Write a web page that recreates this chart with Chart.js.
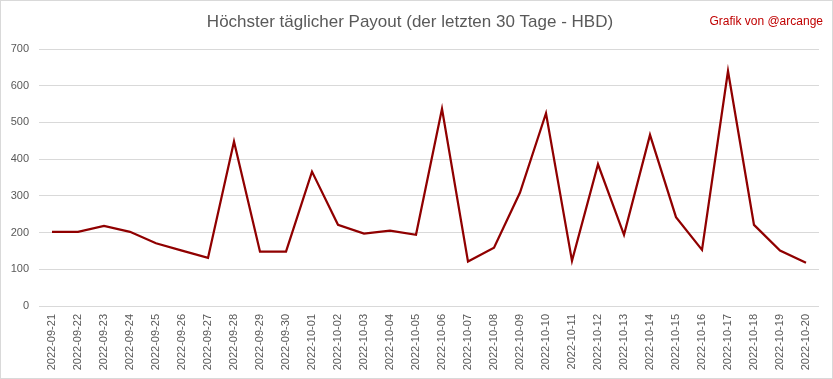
<!DOCTYPE html>
<html>
<head>
<meta charset="utf-8">
<script src="https://cdn.jsdelivr.net/npm/chart.js@4/dist/chart.umd.min.js"></script>
<style>
    html, body { margin: 0; padding: 0; background: #fff; }
    #wrap {
        position: relative;
        width: 833px;
        height: 379px;
        box-sizing: border-box;
        border: 1px solid #d9d9d9;
    }
    #credit {
        position: absolute;
        right: 9px;
        top: 13px;
        font: 12px "Liberation Sans", sans-serif;
        color: #c00000;
    }
</style>
</head>
<body>
<div id="wrap">
    <canvas id="payoutChart" width="831" height="377"></canvas>
    <div id="credit">Grafik von @arcange</div>
</div>
<script>
const days = [
    '2022-09-21', '2022-09-22', '2022-09-23', '2022-09-24', '2022-09-25',
    '2022-09-26', '2022-09-27', '2022-09-28', '2022-09-29', '2022-09-30',
    '2022-10-01', '2022-10-02', '2022-10-03', '2022-10-04', '2022-10-05',
    '2022-10-06', '2022-10-07', '2022-10-08', '2022-10-09', '2022-10-10',
    '2022-10-11', '2022-10-12', '2022-10-13', '2022-10-14', '2022-10-15',
    '2022-10-16', '2022-10-17', '2022-10-18', '2022-10-19', '2022-10-20'
];

// highest daily payout in HBD
const payout = [
    202, 202, 218, 202, 171, 151, 131, 448, 148, 148,
    366, 221, 197, 205, 194, 537, 121, 159, 309, 525,
    123, 386, 194, 466, 242, 153, 640, 221, 151, 118
];

const yTicks = [0, 100, 200, 300, 400, 500, 600, 700];

const grey = '#595959';

document.addEventListener("DOMContentLoaded", function () {
    const ctx = document.getElementById('payoutChart').getContext('2d');

    new Chart(ctx, {
        type: 'line',
        data: {
            labels: days,
            datasets: [{
                label: 'Payout',
                data: payout,
                borderColor: '#900000',
                borderWidth: 2.25,
                pointRadius: 0,
                tension: 0,
                fill: false
            }]
        },
        options: {
            responsive: false,
            animation: false,
            plugins: {
                legend: { display: false },
                tooltip: { enabled: false },
                title: {
                    display: true,
                    text: 'Höchster täglicher Payout (der letzten 30 Tage - HBD)',
                    color: grey,
                    font: { family: '"Liberation Sans", sans-serif', size: 17, weight: 'normal' },
                    padding: { top: 11, bottom: 16.6 }
                }
            },
            layout: {
                padding: { left: 0, right: 13, top: 0, bottom: 0 }
            },
            scales: {
                x: {
                    offset: true,
                    grid: { display: false },
                    border: { display: false },
                    ticks: {
                        color: grey,
                        font: { family: '"Liberation Sans", sans-serif', size: 11 },
                        minRotation: 90,
                        maxRotation: 90,
                        autoSkip: false,
                        padding: 0
                    },
                    afterFit: function (scale) { scale.height = 72; }
                },
                y: {
                    min: 0,
                    max: 700,
                    afterBuildTicks: function (scale) {
                        scale.ticks = yTicks.map(v => ({ value: v }));
                    },
                    grid: { color: '#d9d9d9', lineWidth: 1, drawTicks: false },
                    border: { display: false },
                    ticks: {
                        color: grey,
                        font: { family: '"Liberation Sans", sans-serif', size: 11 },
                        padding: 10
                    },
                    afterFit: function (scale) { scale.width = 38; }
                }
            }
        }
    });
});
</script>
</body>
</html>
